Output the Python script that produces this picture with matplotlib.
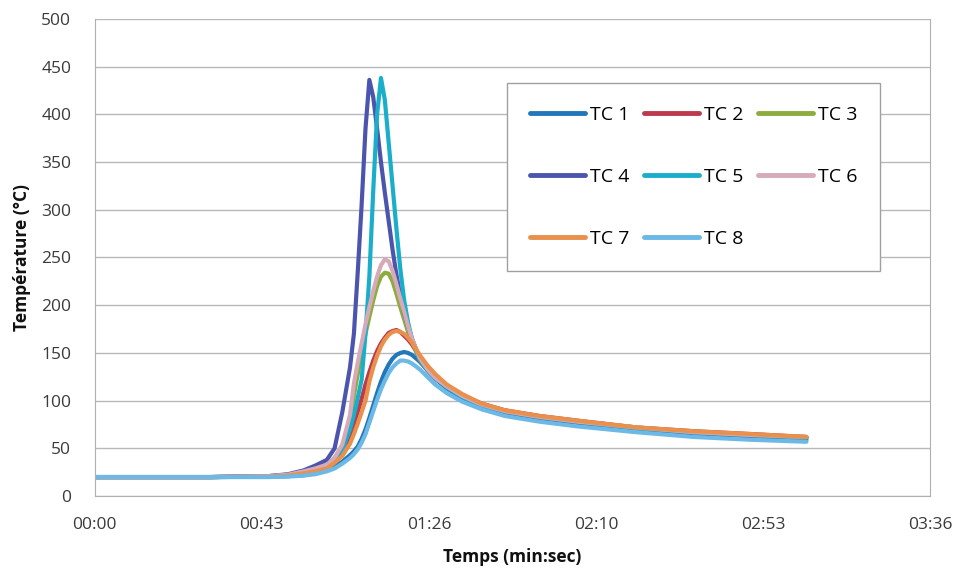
import numpy as np
import matplotlib
matplotlib.use("Agg")
import matplotlib.pyplot as plt

# time in seconds
t = [0, 30, 45, 50, 54, 57, 60, 62, 64, 66, 67, 68, 69, 70, 71, 72, 73, 74, 75, 76,
     77, 78, 79, 80, 81, 82, 84, 86, 88, 91, 95, 100, 106, 115, 125, 140, 155, 170, 184]

tc1 = [20, 20, 20.5, 21, 22, 24, 27, 31, 36, 43, 47, 52, 60, 70, 82, 95, 108, 120, 130, 138,
       144, 148, 150, 151, 150, 148, 141, 132, 123, 113, 103, 93, 86, 80, 75, 69, 64, 61, 59]
tc2 = [20, 20, 21, 22, 25, 28, 31, 38, 46, 62, 75, 88, 102, 117, 130, 142, 152, 160, 166, 171,
       173, 174, 172, 168, 164, 159, 146, 135, 126, 116, 106, 97, 90, 84, 79, 72, 68, 65, 62]
tc3 = [20, 20, 21, 22.5, 26, 29, 33, 40, 52, 78, 105, 128, 150, 170, 188, 205, 220, 230, 234, 233,
       225, 212, 198, 185, 172, 162, 143, 132, 124, 115, 105, 96, 89, 83, 78, 72, 67, 64, 62]
tc4 = [20, 20, 21, 23, 27, 32, 38, 50, 88, 135, 170, 235, 305, 385, 436, 418, 385, 350, 318, 288,
       258, 232, 210, 192, 178, 165, 144, 132, 124, 114, 104, 95, 89, 83, 78, 71, 67, 64, 61]
tc5 = [20, 20, 20.5, 22, 25, 28, 32, 40, 48, 70, 85, 103, 122, 170, 230, 320, 400, 438, 415, 370,
       325, 280, 238, 205, 182, 165, 144, 132, 124, 114, 104, 95, 89, 83, 78, 71, 67, 64, 61]
tc6 = [20, 20, 21, 22.5, 26, 29, 33, 40, 54, 85, 118, 140, 160, 180, 198, 215, 230, 242, 248, 246,
       236, 222, 207, 193, 178, 165, 145, 133, 124, 115, 105, 96, 89, 83, 78, 72, 67, 64, 62]
tc7 = [20, 20, 20.5, 21.5, 24, 26, 29, 35, 42, 55, 65, 76, 88, 100, 120, 135, 147, 157, 164, 169,
       172, 173, 172, 170, 166, 161, 148, 137, 128, 117, 107, 97, 90, 84, 79, 72, 68, 65, 62]
tc8 = [20, 20, 20, 20.5, 21.5, 23, 26, 29, 34, 40, 44, 49, 56, 65, 77, 89, 101, 112, 121, 129,
       135, 139, 142, 142, 141, 139, 133, 125, 117, 108, 99, 91, 84, 78, 73, 67, 62, 59, 57]

labels = ["TC 1", "TC 2", "TC 3", "TC 4", "TC 5", "TC 6", "TC 7", "TC 8"]
series = [tc1, tc2, tc3, tc4, tc5, tc6, tc7, tc8]
colors = ["#2277bb", "#bb3a4c", "#8cac3e", "#4b55ad", "#1aaecb", "#d6aab8", "#e8904c", "#6cb8e6"]

xticks = [0, 43.2, 86.4, 129.6, 172.8, 216]
xticklabels = ["00:00", "00:43", "01:26", "02:10", "02:53", "03:36"]
yticks = list(range(0, 501, 50))

plt.rcParams['font.family'] = ['Open Sans', 'DejaVu Sans']

fig = plt.figure(figsize=(9.57, 5.69), dpi=100)
ax = fig.add_axes([0.099, 0.128, 0.873, 0.839])

handles = []
for y, c, lab in zip(series, colors, labels):
    h, = ax.plot(t, y, color=c, lw=3.0, label=lab, solid_capstyle='round')
    handles.append(h)

ax.set_xlim(0, 216)
ax.set_ylim(0, 500)
ax.set_xticks(xticks)
ax.set_xticklabels(xticklabels)
ax.set_yticks(yticks)
ax.tick_params(axis='both', length=0, labelsize=12.5, colors='#3a3a3a')
ax.tick_params(axis='x', pad=15)
ax.tick_params(axis='y', pad=17)
ax.grid(axis='y', color='#b8b8b8', lw=1)
ax.set_axisbelow(True)
ax.spines['top'].set_visible(False)
for s in ['left', 'bottom', 'right']:
    ax.spines[s].set_color('#b0b0b0')

ax.set_xlabel("Temps (min:sec)", fontsize=12.5, fontweight='bold', color='#111111')
ax.set_ylabel("Température (°C)", fontsize=12.5, fontweight='bold', color='#111111')
ax.xaxis.set_label_coords(0.5, -0.127)
ax.xaxis.label.set_va('center')
ax.yaxis.set_label_coords(-0.087, 0.5)
ax.yaxis.label.set_va('center')

# row-wise legend order for 3 columns
order = [0, 3, 6, 1, 4, 7, 2, 5]
leg = ax.legend([handles[i] for i in order], [labels[i] for i in order],
                ncol=3, loc='upper left', bbox_to_anchor=(0.4934, 0.8658, 0.447, 0.0),
                mode='expand', fontsize=14, handlelength=2.8, handletextpad=0.25,
                labelspacing=2.25, borderaxespad=0, fancybox=False, framealpha=1,
                edgecolor='#a0a0a0', columnspacing=1.0, borderpad=1.2)
for line in leg.get_lines():
    line.set_linewidth(3.5)

fig.savefig("out.png", dpi=100)
